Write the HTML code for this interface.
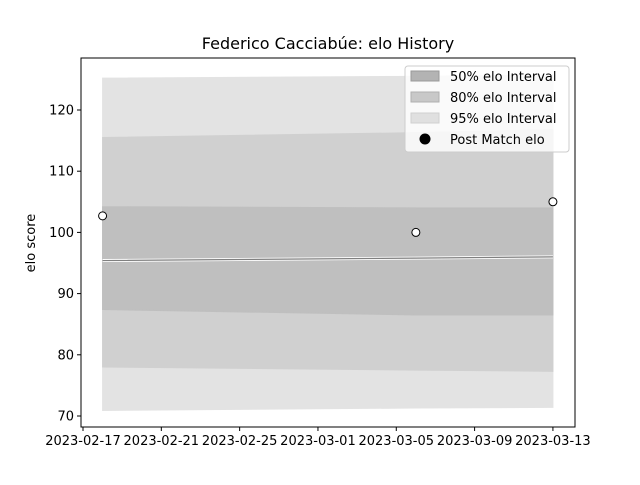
<!DOCTYPE html>
<html><head><meta charset="utf-8"><style>body{margin:0;background:#fff}svg{font-family:"DejaVu Sans","Liberation Sans",sans-serif}</style></head>
<body>
<svg id="c" width="640" height="480"></svg>
<script>
const dates=["2023-02-18","2023-03-06","2023-03-13"];
const postElo=[102.7,100.0,105.0];
const meanElo=[95.4,95.8,96.0];
const p50hi=[104.2,104.0,104.0], p50lo=[87.4,86.5,86.5];
const p80hi=[115.5,116.3,116.8], p80lo=[78.0,77.5,77.3];
const p95hi=[125.2,125.5,125.7], p95lo=[70.9,71.3,71.4];
const xTicks=["2023-02-17","2023-02-21","2023-02-25","2023-03-01","2023-03-05","2023-03-09","2023-03-13"];
const yTicks=[70,80,90,100,110,120];
const L=81,R=575,T=58,B=427;
const day=86400000, x0=Date.parse("2023-02-17");
const X=d=>83+(Date.parse(d)-x0)/day*19.58;
const Y=v=>416-(v-70)*6.12;
const svg=document.getElementById('c'),NS="http://www.w3.org/2000/svg";
function mk(t,a,p){const e=document.createElementNS(NS,t);for(const k in a)e.setAttribute(k,a[k]);(p||svg).appendChild(e);return e;}
function band(hi,lo,fill,name){let pts=dates.map((d,i)=>X(d)+","+Y(hi[i]));pts=pts.concat(dates.map((d,i)=>X(d)+","+Y(lo[i])).reverse());
const e=mk('polygon',{points:pts.join(' '),fill:fill,stroke:fill});

}
band(p95hi,p95lo,'#e3e3e3','band-95');
band(p80hi,p80lo,'#d0d0d0','band-80');
band(p50hi,p50lo,'#bfbfbf','band-50');
const lp=dates.map((d,i)=>X(d)+","+Y(meanElo[i])).join(' ');
mk('polyline',{points:lp,fill:'none',stroke:'#fff',"stroke-width":3});
const ml=mk('polyline',{points:lp,fill:'none',stroke:'#808080',"stroke-width":1.2});


dates.forEach((d,i)=>{const c=mk('circle',{cx:X(d),cy:Y(postElo[i]),r:4,fill:'#fff',stroke:'#000'});

});
mk('rect',{x:L,y:T,width:R-L,height:B-T,fill:'none',stroke:'#000'});
xTicks.forEach(t=>{const x=X(t);mk('line',{x1:x,x2:x,y1:B,y2:B+4,stroke:'#000'});
const e=mk('text',{x:x,y:B+18,"text-anchor":"middle","font-size":13});e.textContent=t;

});
yTicks.forEach(v=>{const y=Y(v);mk('line',{x1:L-4,x2:L,y1:y,y2:y,stroke:'#000'});
const e=mk('text',{x:L-7,y:y+4.5,"text-anchor":"end","font-size":13});e.textContent=v;

});
const yt=mk('text',{x:35,y:243,"text-anchor":"middle","font-size":13,transform:"rotate(-90 35 243)"});yt.textContent="elo score";


const tt=mk('text',{x:328,y:49,"text-anchor":"middle","font-size":16});tt.textContent="Federico Cacciabúe: elo History";


const lg=mk('g',{});


mk('rect',{x:405,y:66,width:164,height:86,rx:3,fill:'#fff',"fill-opacity":0.8,stroke:'#ccc'},lg);
[["#b3b3b3","#999","50% elo Interval"],["#c8c8c8","#b0b0b0","80% elo Interval"],["#e0e0e0","#d0d0d0","95% elo Interval"]].forEach((s,i)=>{
const y=76+i*21;mk('rect',{x:411,y:y-5,width:28,height:10,fill:s[0],stroke:s[1]},lg);
const e=mk('text',{x:450,y:y+5,"font-size":13},lg);e.textContent=s[2];});
mk('circle',{cx:425,cy:139,r:5.5,fill:'#000'},lg);
const e4=mk('text',{x:450,y:144,"font-size":13},lg);e4.textContent="Post Match elo";
</script>
</body></html>
